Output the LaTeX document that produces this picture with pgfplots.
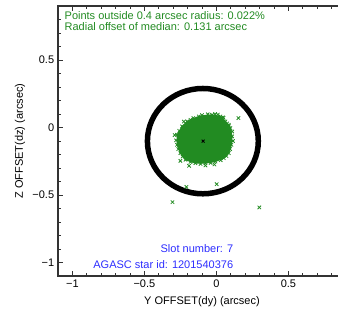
\documentclass[border=0pt]{standalone}
\usepackage{pgfplots}
\pgfplotsset{compat=1.18}
\usepackage{fontspec}
\setmainfont{Liberation Sans}
\definecolor{ptgreen}{RGB}{34,139,34}
\definecolor{ptblue}{RGB}{45,45,255}
\begin{document}
\fontsize{11bp}{13bp}\selectfont
\begin{tikzpicture}
\begin{axis}[
  at={(58bp,42bp)}, anchor=south west,
  scale only axis, width=288bp, height=270bp,
  xmin=-1.1, xmax=0.9, ymin=-1.1, ymax=0.9,
  axis line style={line width=1.1bp, black!80},
  xtick={-1,-0.5,0,0.5}, xticklabels={−1,−0.5,0,0.5},
  ytick={-1,-0.5,0,0.5}, yticklabels={−1,−0.5,0,0.5},
  minor xtick={-1.1,-0.9,-0.8,-0.7,-0.6,-0.4,-0.3,-0.2,-0.1,0.1,0.2,0.3,0.4,0.6,0.7,0.8},
  minor ytick={-1.1,-0.9,-0.8,-0.7,-0.6,-0.4,-0.3,-0.2,-0.1,0.1,0.2,0.3,0.4,0.6,0.7,0.8},
  major tick length=5bp, minor tick length=3bp,
  tick style={line width=0.8bp, black!80},
  tick align=inside,
  ticklabel style={font=\fontsize{11bp}{13bp}\selectfont},
  label style={font=\fontsize{11bp}{13bp}\selectfont},
  xlabel={Y OFFSET(dy) (arcsec)},
  ylabel={Z OFFSET(dz) (arcsec)},
  xlabel style={at={(axis description cs:0.5,-0.096)}, anchor=center},
  ylabel style={at={(axis description cs:-0.132,0.5)}, anchor=center},
  clip=false,
]
% dense core of the distribution (outline)
\addplot[draw=ptgreen, fill=ptgreen, line width=1bp] coordinates {
(-0.180,0.057) (-0.150,0.070) (-0.122,0.082) (-0.075,0.090) (-0.030,0.094) (0.028,0.082) (0.063,0.045)
(0.097,-0.005) (0.109,-0.066) (0.104,-0.128) (0.086,-0.190) (0.051,-0.227)
(-0.007,-0.252) (-0.076,-0.264) (-0.146,-0.264) (-0.215,-0.239) (-0.250,-0.190)
(-0.273,-0.128) (-0.273,-0.054) (-0.238,0.008) (-0.203,0.045) (-0.180,0.057)
};
% individual points
\addplot[only marks, mark=x, mark size=2.4bp, ptgreen, line width=0.8bp] coordinates {
(-0.180,0.057) (-0.122,0.082) (-0.030,0.094) (0.028,0.082) (0.063,0.045)
(0.097,-0.005) (0.109,-0.066) (0.104,-0.128) (0.086,-0.190) (0.051,-0.227)
(-0.007,-0.252) (-0.076,-0.264) (-0.146,-0.264) (-0.215,-0.239) (-0.250,-0.190)
(-0.273,-0.128) (-0.273,-0.054) (-0.238,0.008) (-0.203,0.045)
(-0.160,0.070) (-0.100,0.092) (-0.060,0.098) (0.045,0.075) (0.075,0.030)
(0.110,-0.030) (0.115,-0.100) (0.095,-0.160) (0.070,-0.212) (0.030,-0.242)
(-0.040,-0.262) (-0.110,-0.270) (-0.180,-0.255) (-0.235,-0.215) (-0.265,-0.160)
(-0.280,-0.095) (-0.258,-0.025)
(-0.009,0.100) (0.086,0.013) (-0.226,0.044) (0.010,0.096) (0.050,0.072)
(0.097,-0.084) (0.086,0.020) (0.020,-0.222) (-0.014,-0.274) (-0.076,-0.281)
(-0.190,-0.284) (-0.250,-0.247) (-0.290,-0.056) (0.153,0.070)
(-0.208,-0.440) (0.002,-0.420) (-0.305,-0.553) (0.298,-0.592)
};
% radius circle around median
\draw[line width=5.5bp, black] (axis cs:-0.094,-0.101) ellipse [x radius=0.385, y radius=0.39];
% median
\addplot[only marks, mark=x, mark size=2bp, black, line width=0.9bp] coordinates {(-0.092,-0.101)};
\node[anchor=west, text=ptgreen, inner sep=0pt, align=left, font=\fontsize{11bp}{11.5bp}\selectfont]
  at (axis cs:-1.055,0.79) {Points outside 0.4 arcsec radius: 0.022\%\\Radial offset of median: 0.131 arcsec};
\node[anchor=east, text=ptblue, inner sep=0pt, align=right, font=\fontsize{11bp}{16bp}\selectfont]
  at (axis cs:0.118,-0.953) {Slot number: 7\\AGASC star id: 1201540376};
\end{axis}
\pgfresetboundingbox
\useasboundingbox (0,0) rectangle (338bp,318bp);
\end{tikzpicture}
\end{document}
